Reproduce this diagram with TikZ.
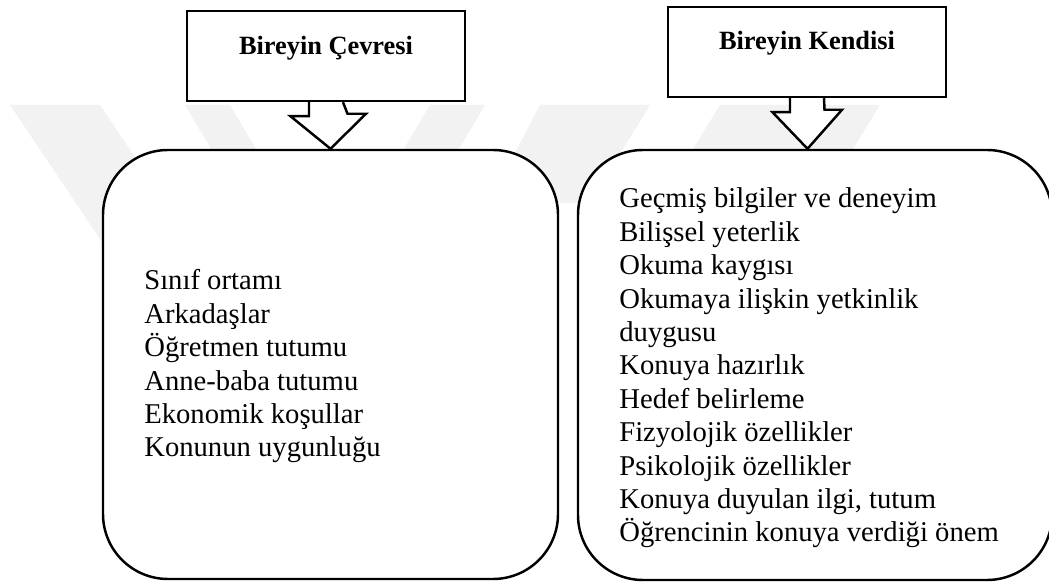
\documentclass[tikz,border=0pt]{standalone}
\usepackage{fontspec}
\setmainfont{Liberation Serif}
\usetikzlibrary{calc}
\colorlet{markcolor}{black!5}

\begin{document}
\begin{tikzpicture}[
    topbox/.style={draw, line width=1.4pt, fill=white, minimum width=5.56cm,
      minimum height=1.80cm, inner sep=0pt},
    listbox/.style={draw, line width=1.4pt, fill=white, rounded corners=1.3cm,
      inner sep=0pt},
    blockarrow/.style={draw, line width=1.4pt, fill=white, line join=miter},
    boxtitle/.style={font=\fontsize{15}{18}\selectfont\bfseries, anchor=base,
      inner sep=0pt},
    listitem/.style={font=\fontsize{16.3}{19}\selectfont, anchor=base west,
      inner sep=0pt}]

  \useasboundingbox (0,0) rectangle (20.98,11.66);

  % faint watermark behind the boxes
  \fill[markcolor] (0.2,9.56) -- (2.0,9.56) -- (5.6,4.2) -- (3.8,4.2) -- cycle;
  \fill[markcolor] (3.7,9.56) -- (4.6,9.56) -- (6.6,6.2) -- (5.7,6.2) -- cycle;
  \fill[markcolor] (9.7,9.56) -- (8.6,9.56) -- (6.6,6.2) -- (7.7,6.2) -- cycle;
  \fill[markcolor] (11.8,9.56) -- (10.8,9.56) -- (8.0,4.2) -- (9.0,4.2) -- cycle;
  \fill[markcolor] (13.0,9.56) -- (11.6,9.56) -- (10.4,7.6) -- (11.8,7.6) -- cycle;
  \fill[markcolor] (17.6,9.56) -- (14.4,9.56) -- (13.2,7.6) -- (16.4,7.6) -- cycle;

  % upper boxes
  \node[topbox] (cevre) at (6.52,10.54) {};
  \node[topbox] (kendi) at (16.14,10.62) {};
  \node[boxtitle] (cevreT) at (6.52,10.56) {Bireyin Çevresi};
  \node[boxtitle] (kendiT) at (16.14,10.66) {Bireyin Kendisi};

  % lower boxes
  \node[listbox, minimum width=9.10cm, minimum height=8.58cm] (cevreBox) at (6.61,4.37) {};
  \node[listbox, minimum width=9.48cm, minimum height=8.60cm] (kendiBox) at (16.30,4.36) {};

  % arrows
  \draw[blockarrow] ($(cevre.south)+(-0.34,0)$) -- ++(0,-0.28) -- ++(-0.37,0)
    -- (cevreBox.north) -- ++(0.71,0.70) -- ++(-0.37,0) -- ($(cevre.south)+(0.34,0)$);
  \draw[blockarrow] ($(kendi.south)+(-0.34,0)$) -- ++(0,-0.28) -- ++(-0.35,0)
    -- ($(kendiBox.north)+(-0.15,0)$) -- ++(0.69,0.78) -- ++(-0.35,0) -- ($(kendi.south)+(0.34,0)$);

  \foreach \t [count=\i] in {Sınıf ortamı, Arkadaşlar, Öğretmen tutumu,
      Anne-baba tutumu, Ekonomik koşullar, Konunun uygunluğu}
    \node[listitem] (cevre\i) at (2.88, 6.528-0.668*\i) {\t};

  \foreach \t [count=\i] in {Geçmiş bilgiler ve deneyim, Bilişsel yeterlik,
      Okuma kaygısı, Okumaya ilişkin yetkinlik, duygusu, Konuya hazırlık,
      Hedef belirleme, Fizyolojik özellikler, Psikolojik özellikler,
      {Konuya duyulan ilgi, tutum}, Öğrencinin konuya verdiği önem}
    \node[listitem] (kendi\i) at (12.38, 8.168-0.668*\i) {\t};

\end{tikzpicture}
\end{document}
